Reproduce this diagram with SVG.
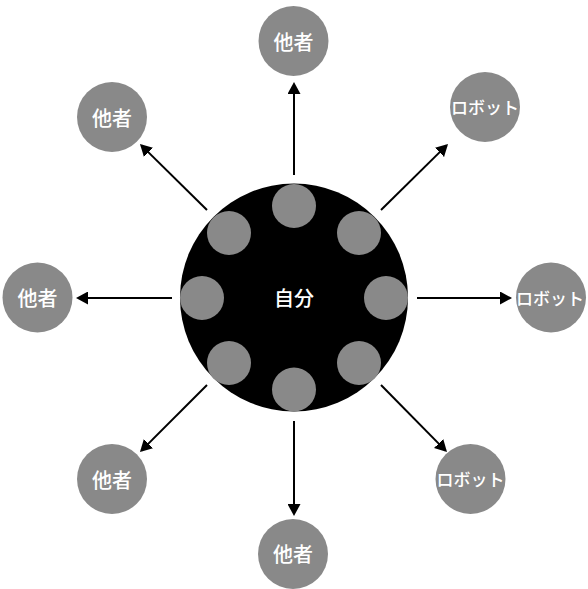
<svg xmlns="http://www.w3.org/2000/svg" width="588" height="589" viewBox="0 0 588 589">
<defs>
<style>
.node{fill:#898989}
.sat{fill:#898989}
.lbl{fill:#ffffff;font-family:"Noto Sans CJK JP","Noto Sans",sans-serif;font-size:20px;font-weight:500;text-anchor:middle;dominant-baseline:central}
.rb{font-size:17px}
.edge{stroke:#000;stroke-width:2;fill:none}
</style>
<marker id="ah" viewBox="0 0 12 13" markerWidth="12" markerHeight="13" markerUnits="userSpaceOnUse" refX="10" refY="6.5" orient="auto">
<path d="M0,0 L12,6.5 L0,13 Z" fill="#000"/>
</marker>
</defs>
<rect width="588" height="589" fill="#fff"/>
<g id="connectors">
<line class="edge" x1="294" y1="175" x2="294" y2="84" marker-end="url(#ah)"/>
<line class="edge" x1="417" y1="298" x2="510" y2="298" marker-end="url(#ah)"/>
<line class="edge" x1="172" y1="298" x2="78" y2="298" marker-end="url(#ah)"/>
<line class="edge" x1="294" y1="421" x2="294" y2="514" marker-end="url(#ah)"/>
<line class="edge" x1="207" y1="210" x2="141.4" y2="145.4" marker-end="url(#ah)"/>
<line class="edge" x1="381" y1="210" x2="446.6" y2="145.4" marker-end="url(#ah)"/>
<line class="edge" x1="207" y1="385" x2="141.4" y2="450.6" marker-end="url(#ah)"/>
<line class="edge" x1="381" y1="385" x2="445.6" y2="450.6" marker-end="url(#ah)"/>
</g>
<g id="self">
<circle cx="294" cy="297.5" r="114" fill="#000"/>
<circle class="sat" cx="294" cy="206" r="22"/>
<circle class="sat" cx="359" cy="233" r="22"/>
<circle class="sat" cx="386" cy="298" r="22"/>
<circle class="sat" cx="359" cy="363" r="22"/>
<circle class="sat" cx="294" cy="389.5" r="22"/>
<circle class="sat" cx="229" cy="363" r="22"/>
<circle class="sat" cx="202" cy="298" r="22"/>
<circle class="sat" cx="229" cy="233" r="22"/>
<text class="lbl" x="294" y="297">自分</text>
</g>
<g id="other-top"><circle class="node" cx="293.5" cy="41" r="35"/><text class="lbl" x="293.5" y="41">他者</text></g>
<g id="other-topleft"><circle class="node" cx="112" cy="117" r="35"/><text class="lbl" x="112" y="117">他者</text></g>
<g id="other-left"><circle class="node" cx="37.5" cy="297.5" r="35"/><text class="lbl" x="37.5" y="297.5">他者</text></g>
<g id="other-bottomleft"><circle class="node" cx="112" cy="479" r="35"/><text class="lbl" x="112" y="479">他者</text></g>
<g id="other-bottom"><circle class="node" cx="293" cy="554" r="35"/><text class="lbl" x="293" y="553">他者</text></g>
<g id="robot-topright"><circle class="node" cx="485" cy="107" r="35"/><text class="lbl rb" x="485" y="106">ロボット</text></g>
<g id="robot-right"><circle class="node" cx="551" cy="297.5" r="35"/><text class="lbl rb" x="550" y="297">ロボット</text></g>
<g id="robot-bottomright"><circle class="node" cx="470.5" cy="479" r="35"/><text class="lbl rb" x="470.5" y="478">ロボット</text></g>
</svg>
